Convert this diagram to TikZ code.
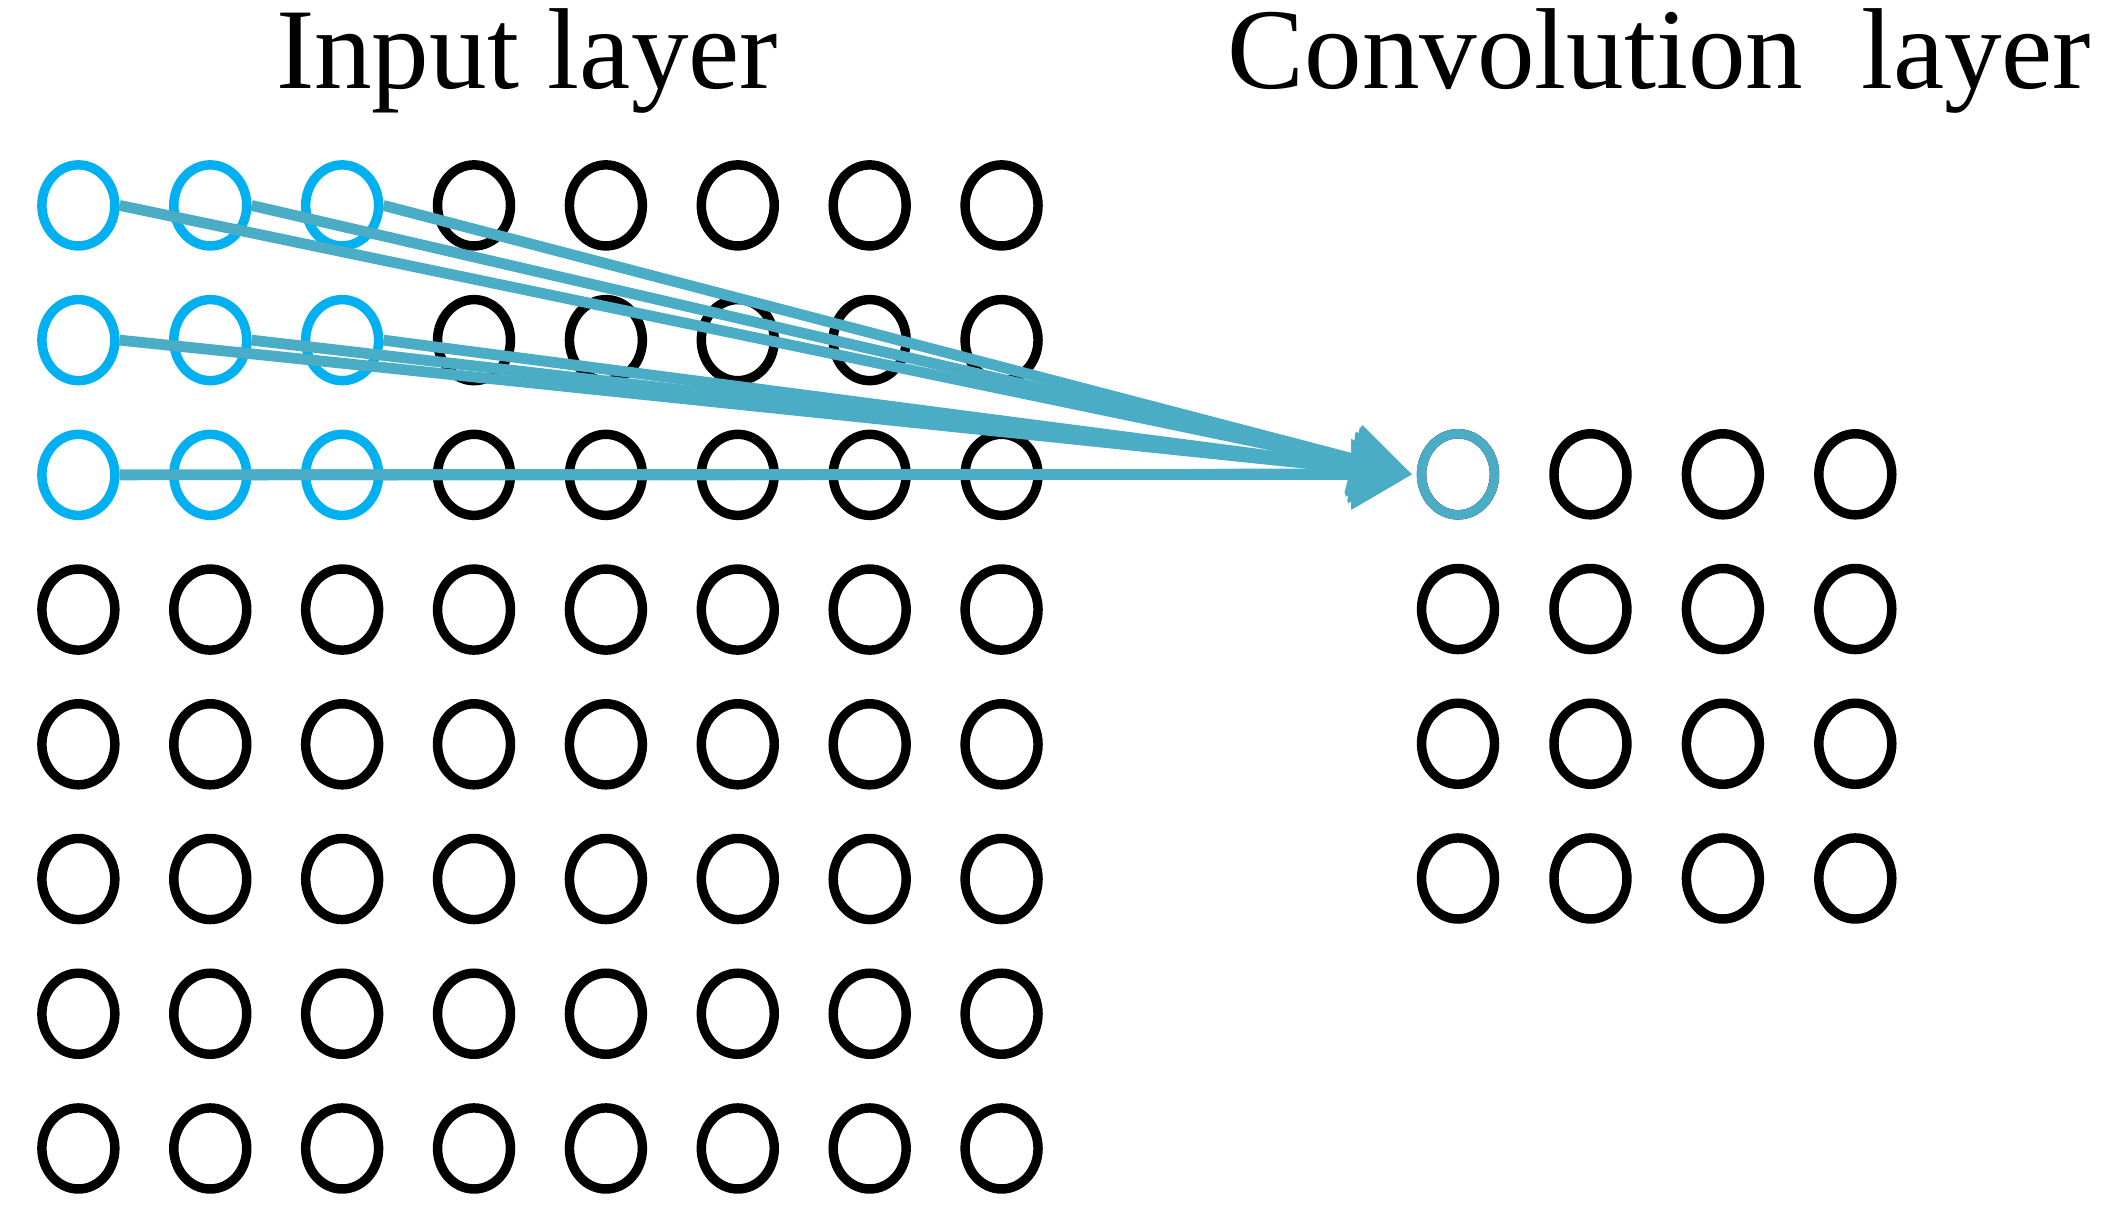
\documentclass[tikz,border=0pt]{standalone}
\usepackage{fontspec}
\setmainfont{Liberation Serif}
\usetikzlibrary{arrows.meta,shapes.geometric}
\definecolor{inblue}{HTML}{00B0F0}
\definecolor{arr}{HTML}{4BACC6}
\begin{document}
\begin{tikzpicture}[x=0.02cm,y=-0.02cm,
  cell/.style={ellipse,draw=black,line width=0.14cm,minimum width=1.08cm,minimum height=1.2cm,inner sep=0pt},
  hot/.style={cell,draw=inblue},
  con/.style={line width=0.16cm,draw=arr},
  title/.style={font=\fontsize{48.5}{52}\selectfont}]
\useasboundingbox (0,0) rectangle (1560,897);
\node[title] (t1) at (390,45) {Input layer};
\node[title] (t2) at (1228,45) {Convolution\ \ layer};
\foreach \i in {0,...,7}{
  \foreach \j in {0,...,7}{
    \pgfmathsetmacro{\xx}{58+97.6*\i}
    \pgfmathsetmacro{\yy}{152+99.7*\j}
    \ifnum\i<3 \ifnum\j<3
      \node[hot] (a\i\j) at (\xx,\yy) {};
    \else \node[cell] (a\i\j) at (\xx,\yy) {}; \fi
    \else \node[cell] (a\i\j) at (\xx,\yy) {}; \fi
  }}
\foreach \i in {0,...,3}{
  \foreach \j in {0,...,3}{
    \pgfmathsetmacro{\xx}{1079+98*\i}
    \pgfmathsetmacro{\yy}{351+99.7*\j}
    \node[cell] (c\i\j) at (\xx,\yy) {};
  }}
\node[cell,draw=arr] at (c00) {};
\coordinate (tip) at (1045,351);
\foreach \i in {0,1,2}{
  \foreach \j in {0,1,2}{
    \draw[con,-{Triangle[length=0.9cm,width=1.0cm]}] (a\i\j.east) -- (tip);
  }}
\end{tikzpicture}
\end{document}
